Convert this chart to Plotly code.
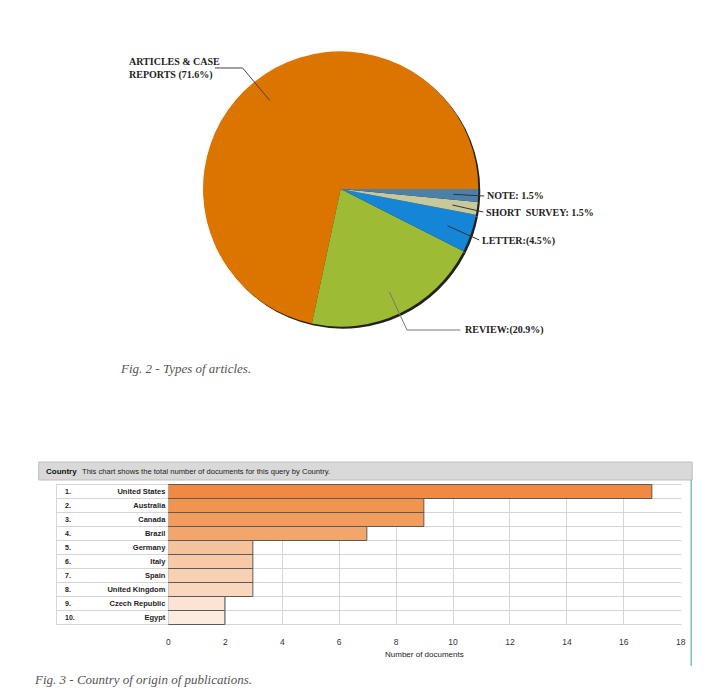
import math
import plotly.graph_objects as go

W, H = 716, 693

# ---------------- data ----------------
pie_labels = ["ARTICLES & CASE REPORTS", "REVIEW", "LETTER", "SHORT SURVEY", "NOTE"]
pie_values = [48, 14, 3, 1, 1]
pie_texts = ["ARTICLES & CASE<br>REPORTS (71.6%)", "REVIEW:(20.9%)", "LETTER:(4.5%)",
             "SHORT&nbsp;&nbsp;SURVEY: 1.5%", "NOTE: 1.5%"]

ranks = ["1.", "2.", "3.", "4.", "5.", "6.", "7.", "8.", "9.", "10."]
countries = ["United States", "Australia", "Canada", "Brazil", "Germany", "Italy",
             "Spain", "United Kingdom", "Czech Republic", "Egypt"]
documents = [17, 9, 9, 7, 3, 3, 3, 3, 2, 2]
x_ticks = [0, 2, 4, 6, 8, 10, 12, 14, 16, 18]

# ---------------- styles ----------------
pie_colors = ["#DB7500", "#9DBB34", "#1585D8", "#C8C99B", "#4B81A9"]
bar_colors = ["#F08A42", "#F19450", "#F29D5E", "#F3A66C", "#F6C29C",
              "#F7C9A7", "#F8D0B2", "#F9D7BD", "#FBE4D3", "#FCEBDF"]


def px(x):
    return x / W


def py(y):
    return 1 - y / H


fig = go.Figure()

total = sum(pie_values)
# plotly counterclockwise: first slice is placed ending at 'rotation'; shift so it starts at 3 o'clock
pie_rot = 90 + (1 - pie_values[0] / total) * 360

# pie geometry (pixels)
cx, cy, r = 342, 189, 139
dom_x = [px(cx - r), px(cx + r)]
dom_y = [py(cy + r), py(cy - r)]
sh = 2
# shadow
fig.add_trace(go.Pie(values=pie_values, labels=pie_labels, sort=False,
                     direction="counterclockwise", rotation=pie_rot,
                     marker=dict(colors=["#222222"] * len(pie_values), line=dict(width=0)),
                     textinfo="none", hoverinfo="skip", showlegend=False,
                     domain=dict(x=[px(cx - r + sh), px(cx + r + sh)],
                                 y=[py(cy + r + sh), py(cy - r + sh)])))
fig.add_trace(go.Pie(values=pie_values, labels=pie_labels, sort=False,
                     direction="counterclockwise", rotation=pie_rot,
                     marker=dict(colors=pie_colors, line=dict(width=0)),
                     textinfo="none", hoverinfo="skip", showlegend=False,
                     domain=dict(x=dom_x, y=dom_y)))

# leader lines from slice mid-angles (counterclockwise from 3 o'clock)
cum = 0
anchors = []
for v in pie_values:
    mid = (cum + v / 2) / total * 360
    cum += v
    a = math.radians(mid)
    anchors.append((cx + 0.82 * r * math.cos(a), cy - 0.82 * r * math.sin(a)))

label_layout = [
    ([(243, 68), (215, 68)], 126, 69, "#444444"),
    ([(409, 330), (463, 330)], 466, 330, "#777777"),
    ([(482, 240)], 483, 241, "#333333"),
    ([(486, 212)], 487, 212, "#333333"),
    ([(487, 196)], 488, 195, "#333333"),
]
shapes = []
annotations = []
for (ax, ay), (pts, tx, ty, lc), txt in zip(anchors, label_layout, pie_texts):
    path = "M %f,%f" % (px(ax), py(ay))
    for (x, y) in pts:
        path += " L %f,%f" % (px(x), py(y))
    shapes.append(dict(type="path", xref="paper", yref="paper", path=path,
                       line=dict(color=lc, width=1)))
    annotations.append(dict(x=px(tx), y=py(ty), xref="paper", yref="paper",
                            xanchor="left", yanchor="middle", align="left",
                            text="<b>" + txt + "</b>", showarrow=False,
                            font=dict(family="Liberation Serif", size=10, color="#222222")))

# captions
annotations.append(dict(x=px(117), y=py(369), xref="paper", yref="paper", xanchor="left",
                        yanchor="middle", showarrow=False, text="<i>Fig. 2 - Types of articles.</i>",
                        font=dict(family="Liberation Serif", size=13, color="#555555")))
annotations.append(dict(x=px(30), y=py(679), xref="paper", yref="paper", xanchor="left",
                        yanchor="middle", showarrow=False,
                        text="<i>Fig. 3 - Country of origin of publications.</i>",
                        font=dict(family="Liberation Serif", size=13, color="#555555")))

# ---------------- bar chart ----------------
fig.add_trace(go.Bar(x=documents, y=countries, orientation="h",
                     marker=dict(color=bar_colors, line=dict(color="#5a5a5a", width=1)),
                     hoverinfo="skip", showlegend=False, xaxis="x", yaxis="y"))

tab_l, tab_r, tab_t, tab_b = 55, 686, 484, 625
x0_px, x18_px = 168, 685.5

# header bar
shapes.append(dict(type="rect", xref="paper", yref="paper", x0=px(37), x1=px(697),
                   y0=py(480), y1=py(462), fillcolor="#D9D9D9",
                   line=dict(color="#BDBDBD", width=1), layer="below"))
annotations.append(dict(x=px(42), y=py(471), xref="paper", yref="paper", xanchor="left",
                        yanchor="middle", showarrow=False, text="<b>Country</b>",
                        font=dict(family="Liberation Sans", size=8, color="#111111")))
annotations.append(dict(x=px(79), y=py(471), xref="paper", yref="paper", xanchor="left",
                        yanchor="middle", showarrow=False,
                        text="This chart shows the total number of documents for this query by Country.",
                        font=dict(family="Liberation Sans", size=7.6, color="#222222")))
# green side line
shapes.append(dict(type="line", xref="paper", yref="paper", x0=px(696), x1=px(696),
                   y0=py(480), y1=py(666), line=dict(color="#7CC3A6", width=1.5)))
# table borders
shapes.append(dict(type="line", xref="paper", yref="paper", x0=px(tab_l), x1=px(tab_l),
                   y0=py(tab_t), y1=py(tab_b), line=dict(color="#D5D5D5", width=1), layer="below"))
for i in range(len(countries) + 1):
    shapes.append(dict(type="line", xref="paper", yref="y", x0=px(tab_l), x1=px(tab_r),
                       y0=i - 0.5, y1=i - 0.5, line=dict(color="#D5D5D5", width=1), layer="below"))

for rk, c in zip(ranks, countries):
    annotations.append(dict(x=px(62), y=c, xref="paper", yref="y", xanchor="left",
                            yanchor="middle", showarrow=False, text="<b>" + rk + "</b>",
                            font=dict(family="Liberation Sans", size=7, color="#222222")))
annotations.append(dict(x=px((x0_px + x18_px) / 2), y=py(654), xref="paper", yref="paper",
                        xanchor="center", yanchor="middle", showarrow=False,
                        text="Number of documents",
                        font=dict(family="Liberation Sans", size=8, color="#222222")))

fig.update_layout(
    width=W, height=H, margin=dict(l=0, r=0, t=0, b=0),
    paper_bgcolor="white", plot_bgcolor="white",
    bargap=0,
    xaxis=dict(domain=[px(x0_px), px(x18_px)], range=[0, 18], tickvals=x_ticks,
               showgrid=True, gridcolor="#D5D5D5", gridwidth=1, zeroline=False,
               showline=False, ticks="", ticklabelstandoff=10,
               tickfont=dict(family="Liberation Sans", size=8.5, color="#333333"),
               fixedrange=True),
    yaxis=dict(domain=[py(tab_b), py(tab_t)], autorange="reversed", showgrid=False,
               zeroline=False, showline=False, ticks="", ticklabelstandoff=2,
               tickfont=dict(family="Liberation Sans", size=7.5, color="#222222"),
               tickprefix="<b>", ticksuffix="</b>", fixedrange=True),
    shapes=shapes,
    annotations=annotations,
)

fig.write_html("out.html")
